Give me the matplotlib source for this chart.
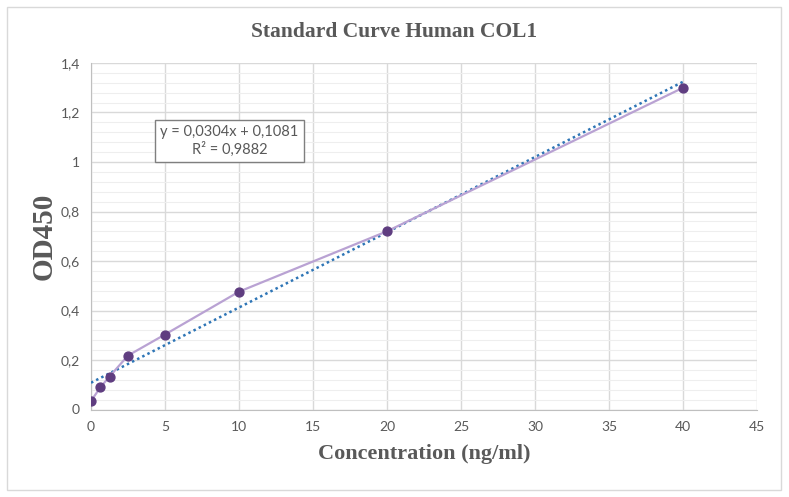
import matplotlib.pyplot as plt
from matplotlib.patches import Rectangle
from matplotlib.ticker import FuncFormatter, MultipleLocator

# Standard points
concentration = [0, 0.625, 1.25, 2.5, 5, 10, 20, 40]
od450 = [0.034, 0.089, 0.133, 0.218, 0.303, 0.476, 0.72, 1.30]

# Linear trendline reported on the chart
slope = 0.0304
intercept = 0.1081
r_squared = 0.9882

title = "Standard Curve Human COL1"
x_label = "Concentration (ng/ml)"
y_label = "OD450"

TEXT_GRAY = "#595959"
SERIF = ["Liberation Serif", "DejaVu Serif"]
SANS = ["Lato", "DejaVu Sans"]


def comma_format(value, _pos):
    text = f"{value:.1f}".rstrip("0").rstrip(".")
    return text.replace(".", ",")


fig = plt.figure(figsize=(7.89, 4.97), dpi=100)
ax = fig.add_axes([91 / 789, 1 - 409.5 / 497, 666 / 789, 346.5 / 497])

# Chart area border
fig.patches.append(
    Rectangle((7 / 789, 7 / 497), 774 / 789, 483 / 497,
              transform=fig.transFigure, fill=False,
              edgecolor="#d9d9d9", linewidth=1)
)

ax.set_xlim(0, 45)
ax.set_ylim(0, 1.4)
ax.xaxis.set_major_locator(MultipleLocator(5))
ax.yaxis.set_major_locator(MultipleLocator(0.2))
ax.yaxis.set_minor_locator(MultipleLocator(0.04))
ax.yaxis.set_major_formatter(FuncFormatter(comma_format))

ax.grid(True, which="major", color="#d9d9d9", linewidth=1)
ax.grid(True, which="minor", axis="y", color="#eeeeee", linewidth=0.8)
ax.set_axisbelow(True)

for side in ["top", "right"]:
    ax.spines[side].set_visible(False)
for side in ["left", "bottom"]:
    ax.spines[side].set_color("#bfbfbf")

ax.tick_params(which="both", length=0, labelsize=10, labelcolor=TEXT_GRAY, pad=8)
for label in ax.get_xticklabels() + ax.get_yticklabels():
    label.set_family(SANS)

# Trendline
trend_x = [concentration[0], concentration[-1]]
trend_y = [slope * x + intercept for x in trend_x]
ax.plot(trend_x, trend_y, linestyle=(0, (1, 1.3)), color="#2e75b6", linewidth=1.8, zorder=3)

# Series
ax.plot(concentration, od450, color="#b9a2d3", linewidth=1.6, zorder=4)
ax.plot(concentration, od450, "o", color="#5f3d80", markersize=6.4, zorder=5)

ax.text(9.35, 1.085,
        f"y = {slope:.4f}x + {intercept:.4f}\nR² = {r_squared:.4f}".replace(".", ","),
        ha="center", va="center", fontsize=10.5, color=TEXT_GRAY, family=SANS,
        linespacing=1.25,
        bbox=dict(boxstyle="square,pad=0.35", facecolor="white", edgecolor="#7f7f7f", linewidth=1),
        zorder=6)

fig.text(0.5, 1 - 32 / 497, title, ha="center", va="center",
         fontsize=15.5, fontweight="bold", color=TEXT_GRAY, family=SERIF)
ax.set_xlabel(x_label, fontsize=16, fontweight="bold", color=TEXT_GRAY, family=SERIF, labelpad=8)
ax.set_ylabel(y_label, fontsize=21, fontweight="bold", color=TEXT_GRAY, family=SERIF, labelpad=2)

fig.savefig("out.png", dpi=100)
